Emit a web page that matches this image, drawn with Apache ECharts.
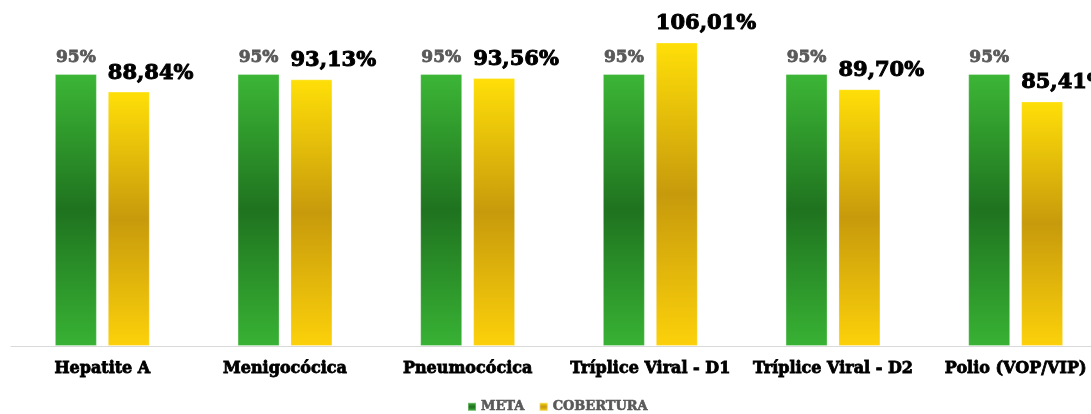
<!DOCTYPE html>
<html><head><meta charset="utf-8">
<script src="https://cdn.jsdelivr.net/npm/echarts@6/dist/echarts.min.js"></script>
<style>html,body{margin:0;padding:0;background:#fff;overflow:hidden}#c{width:1107px;height:414px}</style>
</head><body><div id="c"></div>
<script>
const categories = ['Hepatite A','Menigocócica','Pneumocócica','Tríplice Viral - D1','Tríplice Viral - D2','Polio (VOP/VIP)'];
const meta = [95,95,95,95,95,95];
const cobertura = [88.84,93.13,93.56,106.01,89.70,85.41];
const FONT = '"DejaVu Serif", serif';
function fmt(v){ return v.toFixed(2).replace('.',',') + '%'; }
const chart = echarts.init(document.getElementById('c'));
const greenGrad = new echarts.graphic.LinearGradient(0,0,0,1,[
  {offset:0,color:'#3cb636'},{offset:0.5,color:'#1f731f'},{offset:1,color:'#38b234'}]);
const yellowGrad = new echarts.graphic.LinearGradient(0,0,0,1,[
  {offset:0,color:'#ffdf08'},{offset:0.5,color:'#c79a0c'},{offset:1,color:'#fcd10a'}]);
chart.setOption({
  animation:false,
  grid:{left:11,right:0,top:31,bottom:68,containLabel:false},
  legend:{top:400,left:467,padding:0,itemWidth:8,itemHeight:8,itemGap:14,
    textStyle:{fontFamily:FONT,fontWeight:'bold',fontSize:13,color:'#595959',
      textBorderColor:'#595959',textBorderWidth:0.6},
    data:[{name:'META',icon:'rect'},{name:'COBERTURA',icon:'rect'}]},
  xAxis:{type:'category',data:categories,
    axisLine:{lineStyle:{color:'#d9d9d9',width:1}},axisTick:{show:false},
    axisLabel:{fontFamily:FONT,fontWeight:'bold',fontSize:16,color:'#000',margin:15,interval:0,
      textBorderColor:'#000',textBorderWidth:0.8}},
  yAxis:{type:'value',min:0,max:110,show:false,splitLine:{show:false}},
  series:[
    {name:'META',type:'bar',data:meta,barWidth:42,barGap:'26%',
     itemStyle:{color:greenGrad,borderColor:'rgba(255,255,255,0.3)',borderWidth:1},
     label:{show:true,position:'top',distance:8,formatter:p=>p.value+'%',
       fontFamily:FONT,fontWeight:'bold',fontSize:17,color:'#595959',
       textBorderColor:'#595959',textBorderWidth:0.8}},
    {name:'COBERTURA',type:'bar',data:cobertura,barWidth:42,
     itemStyle:{color:yellowGrad,borderColor:'rgba(255,255,255,0.3)',borderWidth:1},
     label:{show:true,position:[0,-8],align:'left',verticalAlign:'bottom',formatter:p=>fmt(p.value),
       fontFamily:FONT,fontWeight:'bold',fontSize:21,color:'#000',
       textBorderColor:'#000',textBorderWidth:1}}
  ]
});
</script></body></html>
